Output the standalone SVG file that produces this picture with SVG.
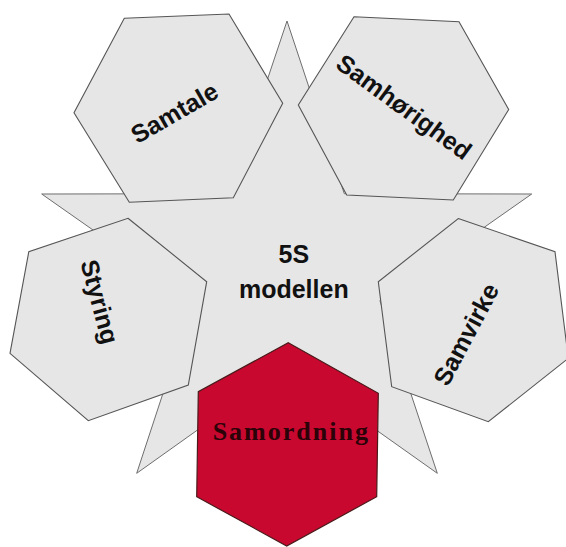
<svg xmlns="http://www.w3.org/2000/svg" width="566" height="547" viewBox="0 0 566 547">
  <style>
    .shape { fill: #e6e6e6; stroke: #555555; stroke-width: 1.1; stroke-linejoin: miter; }
    .star { fill: #e6e6e6; stroke: #6e6e6e; stroke-width: 1; }
    .red { fill: #c8082f; stroke: #4a1a1a; stroke-width: 1.2; }
    .lbl { font-family: "Liberation Sans", Arial, sans-serif; font-weight: bold; font-size: 25px; fill: #111111; text-anchor: middle; }
    .serif { font-family: "Liberation Serif", "Times New Roman", serif; font-weight: bold; font-size: 26px; letter-spacing: 2px; fill: #2a0208; text-anchor: middle; }
  </style>
  <rect width="566" height="547" fill="#ffffff"/>
  <g id="center-5s">
    <polygon class="star" points="287,21 344.3,193.7 531.7,194 379.9,300.5 437.3,473.3 286.7,366.5 136.7,473.3 193.5,300.5 41.7,194 229.1,193.7"/>
    <text class="lbl" x="293.8" y="263.3">5S</text>
    <text class="lbl" x="293.8" y="298.3">modellen</text>
  </g>
  <g id="samtale">
    <polygon class="shape" points="124.3,18.3 229,14 282.7,103.3 233.3,197.7 129.3,202.3 74,112.7"/>
    <text class="lbl" transform="translate(174.2,112.5) rotate(-30)" y="9">Samtale</text>
  </g>
  <g id="samhoerighed">
    <polygon class="shape" points="354,16.7 459,21.7 508.7,109.5 453.3,200 346.7,195 298.3,105"/>
    <text class="lbl" transform="translate(404.2,106.7) rotate(36)" y="9">Samhørighed</text>
  </g>
  <g id="styring">
    <polygon class="shape" points="128,218.3 206.7,281.7 188.3,385 88.3,420.7 10,353.3 28.8,251.7"/>
    <text class="lbl" transform="translate(100,301.7) rotate(75)" y="9">Styring</text>
  </g>
  <g id="samvirke">
    <polygon class="shape" points="458.3,218.5 555,251.7 568.3,358.3 488.3,421.7 391.7,386.7 378.3,281.7"/>
    <text class="lbl" transform="translate(465.8,334.2) rotate(-62)" y="9">Samvirke</text>
  </g>
  <g id="samordning">
    <polygon class="red" points="288.3,342.7 378.3,393.3 376.7,496.7 286.7,546 196.7,496.7 198.3,391.7"/>
    <text class="serif" x="291.3" y="440">Samordning</text>
  </g>
  <g id="connectors"/>
</svg>
